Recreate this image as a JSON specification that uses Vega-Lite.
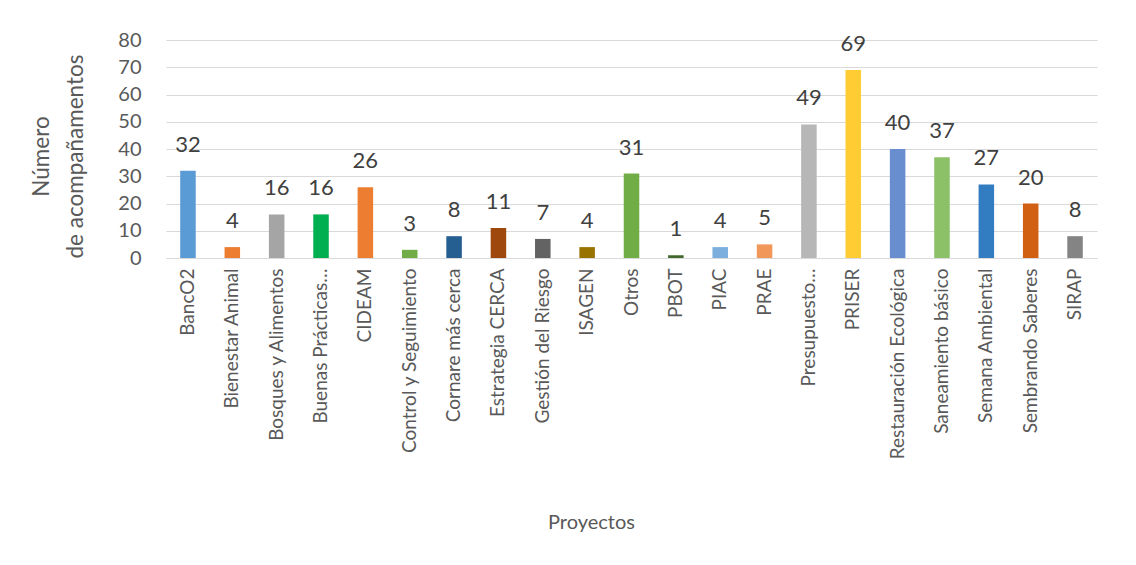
{
  "$schema": "https://vega.github.io/schema/vega-lite/v6.json",
  "autosize": "none",
  "width": 931,
  "height": 218,
  "padding": {"left": 166, "top": 40, "right": 39, "bottom": 307},
  "background": "white",
  "config": {"view": {"stroke": null}, "font": "Lato"},
  "data": {"values": [
    {"p": "BancO2", "v": 32, "c": "#5B9BD5"},
    {"p": "Bienestar Animal", "v": 4, "c": "#ED7D31"},
    {"p": "Bosques y Alimentos", "v": 16, "c": "#A5A5A5"},
    {"p": "Buenas Prácticas…", "v": 16, "c": "#00B050"},
    {"p": "CIDEAM", "v": 26, "c": "#ED7D31"},
    {"p": "Control y Seguimiento", "v": 3, "c": "#70AD47"},
    {"p": "Cornare más cerca", "v": 8, "c": "#255E91"},
    {"p": "Estrategia CERCA", "v": 11, "c": "#9E480E"},
    {"p": "Gestión del Riesgo", "v": 7, "c": "#636363"},
    {"p": "ISAGEN", "v": 4, "c": "#997300"},
    {"p": "Otros", "v": 31, "c": "#70AD47"},
    {"p": "PBOT", "v": 1, "c": "#43682B"},
    {"p": "PIAC", "v": 4, "c": "#7CAFDD"},
    {"p": "PRAE", "v": 5, "c": "#F1975A"},
    {"p": "Presupuesto…", "v": 49, "c": "#B7B7B7"},
    {"p": "PRISER", "v": 69, "c": "#FFCD33"},
    {"p": "Restauración Ecológica", "v": 40, "c": "#698ED0"},
    {"p": "Saneamiento básico", "v": 37, "c": "#8CC168"},
    {"p": "Semana Ambiental", "v": 27, "c": "#327DC2"},
    {"p": "Sembrando Saberes", "v": 20, "c": "#D26012"},
    {"p": "SIRAP", "v": 8, "c": "#848484"}
  ]},
  "encoding": {
    "x": {"field": "p", "type": "nominal", "sort": null,
      "scale": {"paddingInner": 0.65, "paddingOuter": 0.32},
      "axis": {"title": "Proyectos", "labelAngle": -90, "labelFontSize": 19, "labelColor": "#595959",
        "labelPadding": 10, "ticks": false, "domainColor": "#D9D9D9", "titleFontSize": 20,
        "titleFontWeight": "normal", "titleColor": "#595959", "titlePadding": 54, "labelLimit": 300,
        "titleX": 425}},
    "y": {"field": "v", "type": "quantitative",
      "scale": {"domain": [0, 80]},
      "axis": {"title": ["Número", "de acompañamentos"], "values": [0,10,20,30,40,50,60,70,80],
        "labelFontSize": 20, "labelColor": "#595959", "labelPadding": 25, "ticks": false, "domain": false,
        "gridColor": "#D9D9D9", "titleFontSize": 22.5, "titleFontWeight": "normal", "titleColor": "#595959",
        "titleLineHeight": 34, "titlePadding": 30, "titleY": 116}}
  },
  "layer": [
    {"mark": {"type": "bar"}, "encoding": {"color": {"field": "c", "type": "nominal", "scale": null}}},
    {"mark": {"type": "text", "baseline": "alphabetic", "dy": -19, "fontSize": 22, "color": "#404040"},
      "encoding": {"text": {"field": "v", "type": "quantitative"}}}
  ]
}
